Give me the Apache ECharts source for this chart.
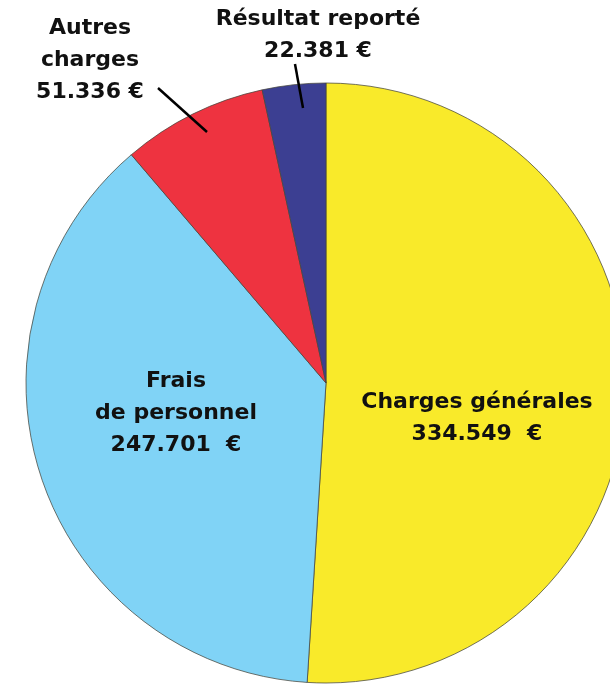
<!DOCTYPE html>
<html>
<head>
<meta charset="utf-8">
<script src="https://cdn.jsdelivr.net/npm/echarts@6/dist/echarts.min.js"></script>
<style>
  html, body { margin: 0; padding: 0; background: #fff; }
  #pie-chart { width: 610px; height: 688px; }
</style>
</head>
<body>
<div id="pie-chart"></div>
<script>
// données du graphique
var categories = ['Charges générales', 'Frais de personnel', 'Autres charges', 'Résultat reporté'];
var values = [334549, 247701, 51336, 22381];
var valueLabels = ['334.549  €', '247.701  €', '51.336 €', '22.381 €'];
var nameLines = ['Charges générales', 'Frais\nde personnel', 'Autres\ncharges', 'Résultat reporté'];
var colors = ['#F9EA2A', '#80D3F6', '#EE3340', '#3C3F92'];

// position des étiquettes (centre du texte) et lignes de rappel
var labelPos = [[477, 418], [176, 413], [90, 60], [318, 35]];
var leaderLines = [null, null, [[158, 88], [207, 132]], [[295, 64], [303, 108]]];

var chart = echarts.init(document.getElementById('pie-chart'));

var data = values.map(function (v, i) {
    return {
        name: categories[i],
        value: v,
        itemStyle: { color: colors[i] },
        label: { formatter: nameLines[i] + '\n' + valueLabels[i] }
    };
});

// lignes de rappel au-dessus des secteurs
var graphics = [];
leaderLines.forEach(function (l) {
    if (!l) return;
    graphics.push({
        type: 'line',
        z: 100,
        shape: { x1: l[0][0], y1: l[0][1], x2: l[1][0], y2: l[1][1] },
        style: { stroke: '#000', lineWidth: 2.5 }
    });
});

var option = {
    animation: false,
    graphic: graphics,
    series: [{
        type: 'pie',
        center: [326, 383],
        radius: 300,
        startAngle: 90,
        clockwise: true,
        avoidLabelOverlap: false,
        itemStyle: {
            borderColor: 'rgba(70,70,60,0.75)',
            borderWidth: 1
        },
        label: {
            show: true,
            position: 'inside',
            color: '#111',
            fontFamily: 'DejaVu Sans',
            fontWeight: 'bold',
            fontSize: 22,
            lineHeight: 32,
            align: 'center'
        },
        labelLine: { show: false },
        labelLayout: function (params) {
            var i = params.dataIndex;
            return {
                x: labelPos[i][0],
                y: labelPos[i][1],
                align: 'center',
                verticalAlign: 'middle'
            };
        },
        data: data
    }]
};

chart.setOption(option);
</script>
</body>
</html>
